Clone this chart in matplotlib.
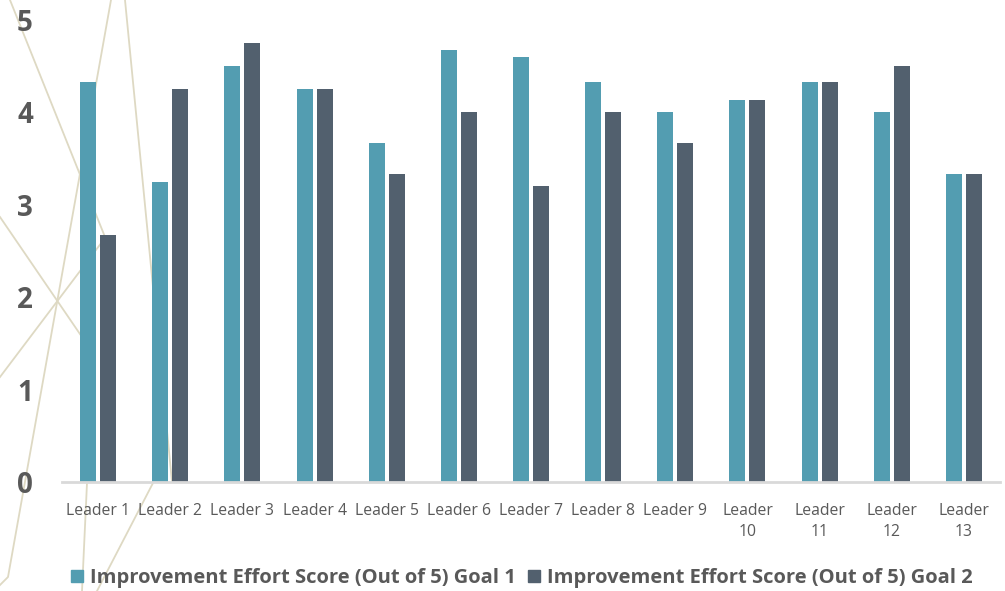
import matplotlib
matplotlib.use("Agg")
from matplotlib import pyplot as plt
from matplotlib.lines import Line2D
from matplotlib.patches import Patch
import numpy as np

plt.rcParams['font.family'] = ['Open Sans', 'DejaVu Sans']

leaders = ["Leader 1", "Leader 2", "Leader 3", "Leader 4", "Leader 5", "Leader 6",
           "Leader 7", "Leader 8", "Leader 9", "Leader\n10", "Leader\n11",
           "Leader\n12", "Leader\n13"]
goal1 = [4.33, 3.25, 4.5, 4.25, 3.67, 4.67, 4.6, 4.33, 4.0, 4.13, 4.33, 4.0, 3.33]
goal2 = [2.67, 4.25, 4.75, 4.25, 3.33, 4.0, 3.2, 4.0, 3.67, 4.13, 4.33, 4.5, 3.33]
series = ["Improvement Effort Score (Out of 5) Goal 1",
          "Improvement Effort Score (Out of 5) Goal 2"]
colors = ["#539DB1", "#52606E"]

W, H = 1005, 591
fig = plt.figure(figsize=(W / 100, H / 100), dpi=100)
ax = fig.add_axes([62 / W, 109 / H, 938 / W, 462 / H])
ax.patch.set_alpha(0)

# thin beige background strokes on the left of the slide
strokes = [
    [(10, 0), (105, 237)],
    [(111, 0), (8, 577), (0, 585)],
    [(0, 217), (82, 337)],
    [(0, 377), (105, 238)],
    [(125, 0), (172, 482)],
    [(87, 483), (82, 591)],
    [(153, 483), (97, 591)],
]
for pts in strokes:
    xs = [p[0] / W for p in pts]
    ys = [1 - p[1] / H for p in pts]
    fig.add_artist(Line2D(xs, ys, color="#DED9C3", lw=1.3, zorder=0))

x = np.arange(len(leaders))
w = 0.222
gap = 0.055
ax.bar(x - (w + gap) / 2, goal1, w, color=colors[0], zorder=3)
ax.bar(x + (w + gap) / 2, goal2, w, color=colors[1], zorder=3)

ax.set_xlim(-0.5, len(leaders) - 0.5)
ax.set_ylim(0, 5)
ax.set_yticks(range(6))
ax.set_xticks(x)
ax.set_xticklabels(leaders, fontsize=11.3, color="#595959", linespacing=1.4)
for t in ax.get_yticklabels():
    t.set_fontsize(20)
    t.set_fontweight("bold")
    t.set_color("#595959")
ax.tick_params(axis="x", length=0, pad=15)
ax.tick_params(axis="y", length=0, pad=21)

for s in ["top", "right", "left"]:
    ax.spines[s].set_visible(False)
ax.spines["bottom"].set_color("#D9D9D9")
ax.spines["bottom"].set_linewidth(2)
ax.spines["bottom"].set_zorder(4)

handles = [Patch(color=c) for c in colors]
fig.legend(handles, series, loc="center", bbox_to_anchor=(522 / W, 1 - 578 / H),
           ncol=2, frameon=False, handlelength=0.6, handleheight=0.6,
           handletextpad=0.35, columnspacing=0.6,
           prop={"size": 14.5, "weight": "bold"}, labelcolor="#595959")

fig.savefig("out.png", dpi=100)
